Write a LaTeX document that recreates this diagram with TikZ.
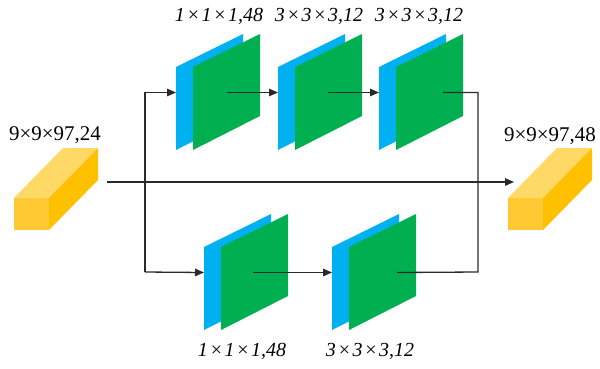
\documentclass[tikz,border=0pt]{standalone}
\usepackage{fontspec}
\setmainfont{Liberation Serif}
\usetikzlibrary{arrows.meta}
\definecolor{cblue}{HTML}{00B0F0}
\definecolor{cgreen}{HTML}{00B050}
\definecolor{cfront}{HTML}{FFC933}
\definecolor{ctop}{HTML}{FFD966}
\definecolor{cside}{HTML}{FFC000}
\definecolor{cline}{HTML}{2A2A2A}
\tikzset{
  conn/.style={draw=cline, line width=1.3bp},
  arr/.style={conn, -{Triangle[length=9bp,width=7.5bp]}},
  lab/.style={inner sep=0pt, font=\fontsize{21}{25}\selectfont},
  ilab/.style={inner sep=0pt, font=\fontsize{20}{24}\selectfont\itshape},
}
\newcommand\tx{\kern1.6bp×\kern1.6bp}
% #1 name, #2 green top-left x, #3 green top-left y
\newcommand\convblk[3]{%
  \fill[cblue] (#2-17,#3) -- (#2+50,#3-33) -- (#2+50,#3+49) -- (#2-17,#3+83) -- cycle;
  \fill[cgreen] (#2,#3) -- (#2+67,#3-33) -- (#2+67,#3+49) -- (#2,#3+83) -- cycle;
  \coordinate (#1in) at (#2-17,#3+25.5);
}
\newcommand\cuboid[3]{% name, front left x, front top y
  \fill[cfront] (#2,#3) rectangle (#2+35,#3+32);
  \fill[ctop] (#2,#3) -- (#2+35,#3) -- (#2+84,#3-50) -- (#2+49,#3-50) -- cycle;
  \fill[cside] (#2+35,#3) -- (#2+84,#3-50) -- (#2+84,#3-18) -- (#2+35,#3+32) -- cycle;
}
\begin{document}
\begin{tikzpicture}[x=1bp,y=-1bp]
\useasboundingbox (0,0) rectangle (600,368);
% cuboids
\cuboid{cl}{14}{198}
\cuboid{cr}{508}{198}
\node[lab] (labl) at (55,135) {9×9×97,24};
\node[lab] (labr) at (550,136) {9×9×97,48};
% blocks
\convblk{ba}{193}{67}
\convblk{bb}{295}{67}
\convblk{bc}{396}{67}
\convblk{bd}{221}{247}
\convblk{be}{349}{247}
\node[ilab] (la) at (219,16) {1\tx 1\tx 1,48};
\node[ilab] (lb) at (319,16) {3\tx 3\tx 3,12};
\node[ilab] (lc) at (419,16) {3\tx 3\tx 3,12};
\node[ilab] (ld) at (242,351) {1\tx 1\tx 1,48};
\node[ilab] (le) at (370,351) {3\tx 3\tx 3,12};
% coordinates
\coordinate (ms) at (107,182);
\coordinate (me) at (514,182);
\coordinate (lbot) at (145,272);
\coordinate (rbot) at (478,272);
\coordinate (oa) at (227,92.5);
\coordinate (ob) at (328,92.5);
\coordinate (oc) at (443,92.5);
\coordinate (od) at (253,272.5);
\coordinate (oe) at (397,272.5);
% connectors
\draw[arr] (ms) -- (me);
\draw[arr] (lbot) |- (bain);
\draw[arr] (lbot) -- (bdin);
\draw[arr] (oa) -- (bbin);
\draw[arr] (ob) -- (bcin);
\draw[conn] (oc) -| (rbot) -- (oe);
\draw[arr] (od) -- (bein);
\end{tikzpicture}
\end{document}
